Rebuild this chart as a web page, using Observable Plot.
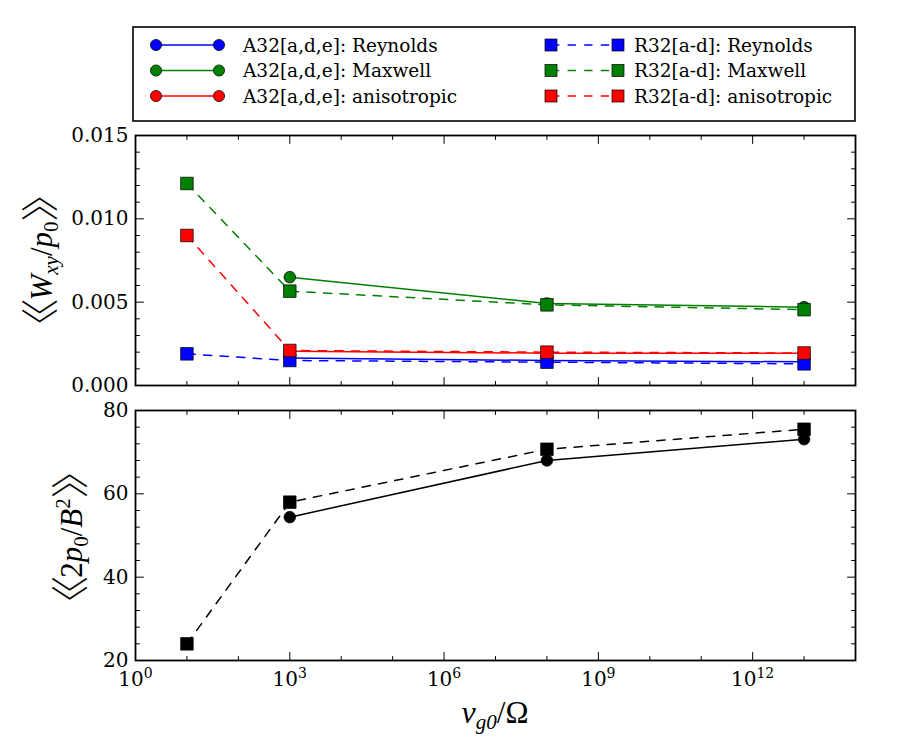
<!DOCTYPE html>
<html><head><meta charset="utf-8">
<script src="https://cdn.jsdelivr.net/npm/d3@7"></script>
<script src="https://cdn.jsdelivr.net/npm/@observablehq/plot@0.6"></script>
<style>
body{margin:0;background:#fff;}
#wrap{position:relative;width:900px;height:750px;overflow:hidden;background:#fff;}
#wrap > svg{position:absolute;left:0;}
</style></head><body><div id="wrap"></div>
<script>
// ---------------- data ----------------
const components = ["Reynolds", "Maxwell", "anisotropic"];
const compColors = ["#0000ff", "#008000", "#ff0000"];
const nuA = [1e3, 1e8, 1e13];          // A32[a,d,e]
const nuR = [1e1, 1e3, 1e8, 1e13];     // R32[a-d]
const wA_reynolds = [0.00165, 0.00150, 0.00142];
const wA_maxwell  = [0.00650, 0.00492, 0.00470];
const wA_aniso    = [0.00206, 0.00194, 0.00193];
const wR_reynolds = [0.00190, 0.00150, 0.00140, 0.00130];
const wR_maxwell  = [0.01212, 0.00566, 0.00484, 0.00455];
const wR_aniso    = [0.00900, 0.00210, 0.00200, 0.00195];
const betaA = [54.4, 68.0, 73.1];
const betaR = [24.0, 58.0, 70.7, 75.5];
// tick values / labels
const xLabelTicks = [1e0, 1e3, 1e6, 1e9, 1e12];
const xMajorTicks = [1e3, 1e6, 1e9, 1e12];
const xMinorTicks = [1e1, 1e2, 1e4, 1e5, 1e7, 1e8, 1e10, 1e11, 1e13];
const yTopLabels = [0, 0.005, 0.010, 0.015];
const yTopMajor = [0.005, 0.010];
const yTopMinor = [0.001, 0.002, 0.003, 0.004, 0.006, 0.007, 0.008, 0.009, 0.011, 0.012, 0.013, 0.014];
const yBotLabels = [20, 40, 60, 80];
const yBotMajor = [40, 60];
const yBotMinor = [24, 28, 32, 36, 44, 48, 52, 56, 64, 68, 72, 76];
const legendA = "A32[a,d,e]: ";
const legendR = "R32[a-d]: ";

// ---------------- helpers ----------------
const rowsFrom = (xs, ys, comp) => xs.map((x, i) => ({x, y: ys[i], comp}));
const topA = [rowsFrom(nuA, wA_reynolds, "Reynolds"), rowsFrom(nuA, wA_maxwell, "Maxwell"), rowsFrom(nuA, wA_aniso, "anisotropic")];
const topR = [rowsFrom(nuR, wR_reynolds, "Reynolds"), rowsFrom(nuR, wR_maxwell, "Maxwell"), rowsFrom(nuR, wR_aniso, "anisotropic")];
const botA = rowsFrom(nuA, betaA, "beta");
const botR = rowsFrom(nuR, betaR, "beta");

const DASH = "8.3,8.3";
const tickShape = {draw(ctx, l) { ctx.moveTo(0, 0); ctx.lineTo(0, -l); }};
const vt = (data, ch, anchor, rot, len) => Plot.vector(data, {[ch]: d => d, frameAnchor: anchor, rotate: rot, length: len, anchor: "start", shape: tickShape, stroke: "black", strokeWidth: 1});
function tickMarks(yMajor, yMinor) {
  return [
    vt(xMajorTicks, "x", "bottom", 0, 8), vt(xMinorTicks, "x", "bottom", 0, 4),
    vt(xMajorTicks, "x", "top", 180, 8), vt(xMinorTicks, "x", "top", 180, 4),
    vt(yMajor, "y", "left", 90, 8), vt(yMinor, "y", "left", 90, 4),
    vt(yMajor, "y", "right", -90, 8), vt(yMinor, "y", "right", -90, 4)
  ];
}
const font = "'DejaVu Serif', 'Liberation Serif', serif";
const tickFont = 20;
const wrap = document.getElementById("wrap");

// ---------------- top panel ----------------
const topMarks = [];
topA.forEach(rows => {
  topMarks.push(Plot.line(rows, {x: "x", y: "y", stroke: "comp", strokeWidth: 1.5}));
  topMarks.push(Plot.dot(rows, {x: "x", y: "y", fill: "comp", r: 5.8, stroke: "black", strokeWidth: 0.7}));
});
topR.forEach(rows => {
  topMarks.push(Plot.line(rows, {x: "x", y: "y", stroke: "comp", strokeWidth: 1.5, strokeDasharray: DASH}));
  topMarks.push(Plot.dot(rows, {x: "x", y: "y", fill: "comp", symbol: "square", r: 7.1, stroke: "black", strokeWidth: 0.7}));
});
const topPlot = Plot.plot({
  width: 900, height: 300,
  marginLeft: 135, marginRight: 45, marginTop: 30, marginBottom: 20,
  style: {background: "none", color: "black", fontFamily: font},
  x: {type: "log", domain: [1, 1e14], axis: null},
  y: {domain: [0, 0.015], axis: null},
  color: {domain: components, range: compColors},
  marks: [
    ...topMarks,
    Plot.axisY(yTopLabels, {tickSize: 0, tickPadding: 7, tickFormat: d3.format(".3f"), fontSize: tickFont, label: null}),
    ...tickMarks(yTopMajor, yTopMinor),
    Plot.frame({stroke: "black", strokeWidth: 1.8})
  ]
});
topPlot.style.top = "105px";
wrap.appendChild(topPlot);

// ---------------- bottom panel ----------------
const botPlot = Plot.plot({
  width: 900, height: 355,
  marginLeft: 135, marginRight: 45, marginTop: 15, marginBottom: 90,
  style: {background: "none", color: "black", fontFamily: font},
  x: {type: "log", domain: [1, 1e14], axis: null},
  y: {domain: [20, 80], axis: null},
  marks: [
    Plot.line(botA, {x: "x", y: "y", stroke: "black", strokeWidth: 1.5}),
    Plot.dot(botA, {x: "x", y: "y", fill: "black", r: 5.8, stroke: "black", strokeWidth: 0.7}),
    Plot.line(botR, {x: "x", y: "y", stroke: "black", strokeWidth: 1.5, strokeDasharray: DASH}),
    Plot.dot(botR, {x: "x", y: "y", fill: "black", symbol: "square", r: 7.1, stroke: "black", strokeWidth: 0.7}),
    Plot.axisY(yBotLabels, {tickSize: 0, tickPadding: 7, tickFormat: d => String(d), fontSize: tickFont, label: null}),
    Plot.axisX(xLabelTicks, {tickSize: 0, tickPadding: 11, tickFormat: d => "10^" + Math.round(Math.log10(d)), fontSize: tickFont, label: null}),
    ...tickMarks(yBotMajor, yBotMinor),
    Plot.frame({stroke: "black", strokeWidth: 1.8})
  ]
});
botPlot.style.top = "395px";
wrap.appendChild(botPlot);

// superscripts for x tick labels
d3.select(botPlot).selectAll('g[aria-label="x-axis tick label"] text').each(function () {
  const m = this.textContent.match(/^10\^(\d+)$/);
  if (!m) return;
  const s = d3.select(this);
  s.text(null);
  s.append("tspan").text("10");
  s.append("tspan").attr("dy", "-0.55em").attr("font-size", "14px").text(m[1]);
});

// ---------------- legend ----------------
const leg = d3.create("svg").attr("width", 900).attr("height", 125).style("top", "0px");
leg.append("rect").attr("x", 133).attr("y", 27).attr("width", 722).attr("height", 94)
  .attr("fill", "white").attr("stroke", "black").attr("stroke-width", 1.6);
components.forEach((c, i) => {
  const y = 45 + i * 25.5;
  const col = compColors[i];
  leg.append("line").attr("x1", 156).attr("x2", 219).attr("y1", y).attr("y2", y).attr("stroke", col).attr("stroke-width", 1.5);
  [156, 219].forEach(x => leg.append("circle").attr("cx", x).attr("cy", y).attr("r", 5.6).attr("fill", col).attr("stroke", "black").attr("stroke-width", 0.7));
  leg.append("text").attr("x", 243).attr("y", y + 6.5).attr("font-family", font).attr("font-size", 18.5).text(legendA + c);
  leg.append("line").attr("x1", 551).attr("x2", 618).attr("y1", y).attr("y2", y).attr("stroke", col).attr("stroke-width", 1.5).attr("stroke-dasharray", DASH);
  [551, 618].forEach(x => leg.append("rect").attr("x", x - 6).attr("y", y - 6).attr("width", 12).attr("height", 12).attr("fill", col).attr("stroke", "black").attr("stroke-width", 0.7));
  leg.append("text").attr("x", 634).attr("y", y + 6.5).attr("font-family", font).attr("font-size", 18.5).text(legendR + c);
});
wrap.appendChild(leg.node());

// ---------------- axis titles ----------------
const mathFont = "'Liberation Serif', serif";
const cjk = "'Noto Sans CJK JP'";
function addLabel(svg, x, y, rot, parts) {
  const t = d3.select(svg).append("text")
    .attr("transform", `translate(${x},${y}) rotate(${rot})`)
    .attr("text-anchor", "middle").attr("fill", "black");
  parts.forEach(p => {
    const ts = t.append("tspan").text(p.t)
      .attr("font-family", p.f || mathFont)
      .attr("font-size", p.s || 31);
    if (p.i) ts.attr("font-style", "italic");
    if (p.dy) ts.attr("dy", p.dy);
    if (p.dx) ts.attr("dx", p.dx);
    if (p.w) ts.attr("font-weight", p.w);
  });
}
const BS = 38;
const open = [{t: "\u3008", f: cjk, s: BS, w: 300, dy: 2}, {t: "\u3008", f: cjk, s: BS, w: 300, dx: -10}];
const close = (dy) => [{t: "\u3009", f: cjk, s: BS, w: 300, dy: dy}, {t: "\u3009", f: cjk, s: BS, w: 300, dx: -10}];
addLabel(topPlot, 52, 155, -90, [
  ...open,
  {t: "W", i: true, dx: -2, dy: -2},
  {t: "xy", i: true, s: 21, dy: 6},
  {t: "/", dy: -6},
  {t: "p", i: true},
  {t: "0", s: 21, dy: 6},
  ...close(-4)
]);
addLabel(botPlot, 82, 142, -90, [
  ...open,
  {t: "2", dx: -2, dy: -2},
  {t: "p", i: true},
  {t: "0", s: 21, dy: 6},
  {t: "/", dy: -6},
  {t: "B", i: true},
  {t: "2", s: 21, dy: -12},
  ...close(14)
]);
addLabel(botPlot, 495, 328, 0, [
  {t: "\u03BD", i: true, s: 32},
  {t: "g0", i: true, s: 21, dy: 6},
  {t: "/", s: 31, dy: -6},
  {t: "\u03A9", s: 31}
]);
</script></body></html>
